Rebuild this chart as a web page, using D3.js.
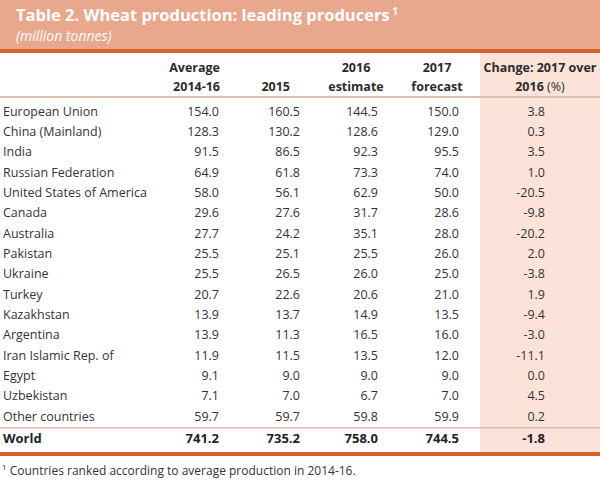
<!DOCTYPE html>
<html><head><meta charset="utf-8">
<script src="https://cdn.jsdelivr.net/npm/d3@7"></script>
<style>body{margin:0;background:#fff}svg{display:block}</style>
</head><body>
<script>
const countries = ["European Union","China (Mainland)","India","Russian Federation","United States of America","Canada","Australia","Pakistan","Ukraine","Turkey","Kazakhstan","Argentina","Iran Islamic Rep. of","Egypt","Uzbekistan","Other countries"];
const avg1416 = ["154.0","128.3","91.5","64.9","58.0","29.6","27.7","25.5","25.5","20.7","13.9","13.9","11.9","9.1","7.1","59.7"];
const y2015 = ["160.5","130.2","86.5","61.8","56.1","27.6","24.2","25.1","26.5","22.6","13.7","11.3","11.5","9.0","7.0","59.7"];
const est2016 = ["144.5","128.6","92.3","73.3","62.9","31.7","35.1","25.5","26.0","20.6","14.9","16.5","13.5","9.0","6.7","59.8"];
const fc2017 = ["150.0","129.0","95.5","74.0","50.0","28.6","28.0","26.0","25.0","21.0","13.5","16.0","12.0","9.0","7.0","59.9"];
const change = ["3.8","0.3","3.5","1.0","-20.5","-9.8","-20.2","2.0","-3.8","1.9","-9.4","-3.0","-11.1","0.0","4.5","0.2"];
const worldRow = ["World","741.2","735.2","758.0","744.5","-1.8"];
const headers = [["Average","2014-16"],["","2015"],["2016","estimate"],["2017","forecast"],["Change: 2017 over","2016 (%)"]];
const title = "Table 2. Wheat production: leading producers";
const subtitle = "(million tonnes)";
const footnote = "Countries ranked according to average production in 2014-16.";

const W = 600, H = 480;
const font = "'Open Sans', sans-serif";
const svg = d3.select("body").append("svg").attr("width", W).attr("height", H)
  .style("font-family", font);

// header band
svg.append("rect").attr("x",0).attr("y",0).attr("width",W).attr("height",50).attr("fill","#E9A78D");
svg.append("rect").attr("x",0).attr("y",49).attr("width",W).attr("height",4).attr("fill","#D6622E");
const t = svg.append("text").attr("x",16).attr("y",21).attr("fill","#fff")
  .attr("font-weight","bold").attr("font-size",16.5).text(title);
t.append("tspan").attr("font-size",10).attr("dy",-6).text(" 1");
svg.append("text").attr("x",16).attr("y",41).attr("fill","#fff").attr("font-style","italic")
  .attr("font-size",14).text(subtitle);

// shaded change column
svg.append("rect").attr("x",480).attr("y",53).attr("width",120).attr("height",399).attr("fill","#FBE3DA");

// columns
const cols = [
  {data: avg1416, x: 219, anchor: "end", hx: 220, hanchor: "end"},
  {data: y2015, x: 300, anchor: "end", hx: 290, hanchor: "end"},
  {data: est2016, x: 378, anchor: "end", hx: 356, hanchor: "middle"},
  {data: fc2017, x: 459, anchor: "end", hx: 437, hanchor: "middle"},
  {data: change, x: 545, anchor: "end", hx: 540, hanchor: "middle"}
];

// header rows
const hg = svg.append("g").attr("font-weight","bold").attr("font-size",12.5).attr("fill","#2b2b2b");
headers.forEach((h,i)=>{
  h.forEach((line,j)=>{
    if(!line) return;
    const txt = hg.append("text").attr("x",cols[i].hx).attr("y",j===0?72:91).attr("text-anchor",cols[i].hanchor);
    if(line === "2016 (%)"){ txt.text("2016 "); txt.append("tspan").attr("font-weight","normal").text("(%)"); }
    else txt.text(line);
  });
});
svg.append("rect").attr("x",0).attr("y",96).attr("width",W).attr("height",2).attr("fill","#DCC0B0");

// rows
const y = d3.scalePoint().domain(countries).range([111, 416]);
const body = svg.append("g").attr("font-size",12.5).attr("fill","#333");
body.selectAll("text.name").data(countries).join("text").attr("class","name")
  .attr("x",3).attr("y",d=>y(d)+4.5).text(d=>d);
cols.forEach(c=>{
  body.selectAll(null).data(c.data).join("text")
    .attr("x",c.x).attr("y",(d,i)=>y(countries[i])+4.5).attr("text-anchor",c.anchor).text(d=>d);
});
svg.append("rect").attr("x",0).attr("y",427).attr("width",W).attr("height",1.5).attr("fill","#D9B9A7");

// world row
const wy = 443;
const wg = svg.append("g").attr("font-size",13).attr("font-weight","bold").attr("fill","#222");
wg.append("text").attr("x",3).attr("y",wy).text(worldRow[0]);
cols.forEach((c,i)=>{
  wg.append("text").attr("x",c.x).attr("y",wy).attr("text-anchor","end").text(worldRow[i+1]);
});
svg.append("rect").attr("x",0).attr("y",452).attr("width",W).attr("height",4).attr("fill","#D6622E");

// footnote
const f = svg.append("text").attr("x",2).attr("y",475).attr("font-size",12).attr("fill","#333");
f.append("tspan").attr("font-size",8).attr("dy",-5).text("1");
f.append("tspan").attr("dy",5).text(" " + footnote);
</script>
</body></html>
